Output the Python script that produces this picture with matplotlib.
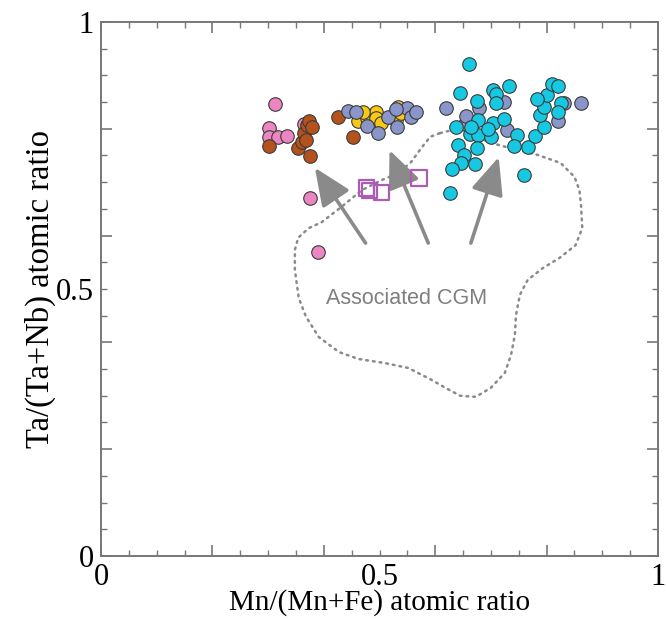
import matplotlib
matplotlib.use("Agg")
from matplotlib import pyplot as plt
from matplotlib.ticker import MultipleLocator, FuncFormatter
import numpy as np

# Mn/(Mn+Fe) vs Ta/(Ta+Nb) atomic ratios
pink_x = [0.312, 0.302, 0.302, 0.318, 0.334, 0.364, 0.375, 0.389, 0.654]
pink_y = [0.846, 0.801, 0.785, 0.785, 0.787, 0.809, 0.670, 0.569, 0.809]

brown_x = [0.302, 0.354, 0.361, 0.364, 0.370, 0.373, 0.379, 0.375, 0.425, 0.452, 0.368]
brown_y = [0.768, 0.764, 0.775, 0.792, 0.807, 0.815, 0.803, 0.749, 0.822, 0.785, 0.779]

yellow_x = [0.462, 0.477, 0.493, 0.493, 0.530, 0.534, 0.539, 0.502, 0.471]
yellow_y = [0.815, 0.820, 0.831, 0.820, 0.816, 0.841, 0.830, 0.811, 0.831]

slate_x = [0.443, 0.457, 0.477, 0.498, 0.516, 0.532, 0.550, 0.557, 0.566, 0.529,
           0.620, 0.655, 0.679, 0.723, 0.729, 0.820, 0.832, 0.861]
slate_y = [0.833, 0.831, 0.805, 0.792, 0.822, 0.803, 0.839, 0.822, 0.831, 0.837,
           0.839, 0.824, 0.839, 0.850, 0.798, 0.815, 0.848, 0.848]

cyan_x = [0.661, 0.645, 0.704, 0.709, 0.732, 0.675, 0.709, 0.638, 0.677, 0.663,
          0.677, 0.704, 0.723, 0.700, 0.695, 0.746, 0.741, 0.766, 0.779, 0.796,
          0.788, 0.796, 0.800, 0.782, 0.809, 0.821, 0.825, 0.820, 0.641, 0.652,
          0.646, 0.671, 0.675, 0.630, 0.759, 0.627, 0.664]
cyan_y = [0.921, 0.867, 0.873, 0.865, 0.880, 0.852, 0.848, 0.803, 0.816, 0.790,
          0.788, 0.811, 0.818, 0.785, 0.800, 0.788, 0.768, 0.766, 0.787, 0.803,
          0.826, 0.841, 0.863, 0.856, 0.884, 0.880, 0.848, 0.831, 0.770, 0.751,
          0.736, 0.734, 0.764, 0.725, 0.713, 0.680, 0.803]

cgm_x = [0.477, 0.482, 0.504, 0.571]
cgm_y = [0.689, 0.684, 0.680, 0.708]

# dotted field of the associated CGM
field_x = [0.609, 0.632, 0.659, 0.695, 0.727, 0.784, 0.825, 0.850, 0.859, 0.862,
           0.864, 0.852, 0.823, 0.793, 0.766, 0.752, 0.745, 0.743, 0.736, 0.725,
           0.700, 0.673, 0.645, 0.618, 0.593, 0.552, 0.511, 0.462, 0.427, 0.391,
           0.368, 0.355, 0.348, 0.348, 0.354, 0.373, 0.396, 0.432, 0.468, 0.504,
           0.534, 0.557, 0.575, 0.591, 0.609]
field_y = [0.792, 0.798, 0.796, 0.775, 0.766, 0.751, 0.736, 0.710, 0.685, 0.654,
           0.614, 0.582, 0.558, 0.539, 0.517, 0.489, 0.451, 0.414, 0.376, 0.343,
           0.315, 0.298, 0.300, 0.315, 0.330, 0.352, 0.361, 0.369, 0.382, 0.410,
           0.448, 0.483, 0.536, 0.573, 0.596, 0.614, 0.625, 0.654, 0.685, 0.704,
           0.717, 0.738, 0.764, 0.785, 0.792]

# arrows: (tail, head)
arrows = [((0.475, 0.586), (0.384, 0.727)),
          ((0.5875, 0.586), (0.518, 0.760)),
          ((0.664, 0.586), (0.714, 0.747))]

fig = plt.figure(figsize=(6.66, 6.21), dpi=100)
ax = fig.add_axes([0.1517, 0.1047, 0.8363, 0.8599])

grey = '#8a8a8a'
ax.plot(field_x, field_y, color=grey, lw=1.8, linestyle=(0, (0.7, 2.0)),
        dash_capstyle='round', zorder=1)

for tail, head in arrows:
    ax.annotate('', xy=head, xytext=tail,
                arrowprops=dict(arrowstyle='-|>,head_length=1.15,head_width=0.5',
                                mutation_scale=20, lw=2.6, color=grey,
                                shrinkA=0, shrinkB=0), zorder=2)

ax.text(0.548, 0.483, 'Associated CGM', color='#7f7f7f', fontsize=15.5,
        family='Liberation Sans', ha='center', va='center')

mk = dict(s=95, edgecolors='#3a3a3a', linewidths=0.8, zorder=3)
ax.scatter(pink_x, pink_y, c='#ec86c2', **mk)
ax.scatter(brown_x, brown_y, c='#b5521c', **mk)
ax.scatter(yellow_x, yellow_y, c='#f8c814', **mk)
ax.scatter(slate_x, slate_y, c='#8a95c9', **mk)
ax.scatter(cyan_x, cyan_y, c='#17c8e2', **mk)
ax.scatter(cgm_x, cgm_y, marker='s', s=120, facecolors='none',
           edgecolors='#ad5cb6', linewidths=1.6, zorder=3)

ax.set_xlim(0, 1)
ax.set_ylim(0, 1)

def major_fmt(v, pos):
    return {0.0: '0', 1.0: '1'}.get(round(v, 2), '')

def minor_fmt(v, pos):
    return '0.5' if abs(v - 0.5) < 1e-6 else ''

for axis in (ax.xaxis, ax.yaxis):
    axis.set_major_locator(MultipleLocator(0.2))
    axis.set_minor_locator(MultipleLocator(0.05))
    axis.set_major_formatter(FuncFormatter(major_fmt))
    axis.set_minor_formatter(FuncFormatter(minor_fmt))

ax.tick_params(which='both', direction='in', top=True, right=True,
               color='#777777', labelsize=22, labelfontfamily='Liberation Serif', pad=5)
ax.tick_params(which='major', length=8, width=1.2)
ax.tick_params(which='minor', length=4, width=1.0)
for s in ax.spines.values():
    s.set_color('#777777')
    s.set_linewidth(1.4)

ax.set_xlabel('Mn/(Mn+Fe) atomic ratio', fontsize=21, family='Liberation Serif', labelpad=-2)
ax.set_ylabel('Ta/(Ta+Nb) atomic ratio', fontsize=23.5, family='Liberation Serif', labelpad=0)

fig.savefig('out.png', dpi=100)
